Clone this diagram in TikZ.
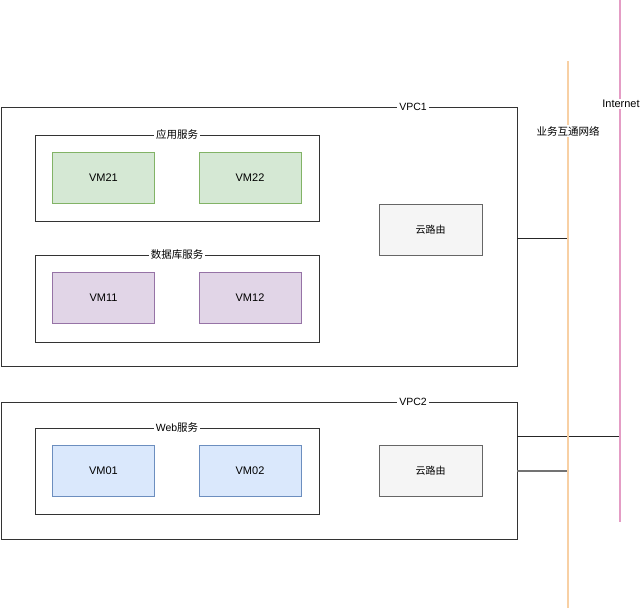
\documentclass[tikz,border=0pt]{standalone}
\usepackage{fontspec}
\setmainfont{Liberation Sans}
\newfontfamily\cjk{Noto Sans CJK SC}
\usetikzlibrary{positioning}

\definecolor{vmgreen}{HTML}{D5E8D4}
\definecolor{vmgreenline}{HTML}{82B366}
\definecolor{vmpurple}{HTML}{E1D5E7}
\definecolor{vmpurpleline}{HTML}{9673A6}
\definecolor{vmblue}{HTML}{DAE8FC}
\definecolor{vmblueline}{HTML}{6C8EBF}
\definecolor{rtgray}{HTML}{F5F5F5}
\definecolor{rtline}{HTML}{666666}
\definecolor{netorange}{HTML}{F8D0A4}
\definecolor{netpink}{HTML}{E49CC5}

\tikzset{
  vm/.style={rectangle, draw, minimum width=102pt, minimum height=51pt, font=\fontsize{11}{13}\selectfont},
  router/.style={rectangle, draw=rtline, fill=rtgray, minimum width=103pt, minimum height=51pt, font=\cjk\fontsize{10}{12}\selectfont},
  group/.style={rectangle, draw=black!80, line width=0.8pt},
  grouplabel/.style={fill=white, inner sep=2pt, font=\fontsize{10.5}{12}\selectfont},
}

\begin{document}
\begin{tikzpicture}[x=1pt, y=-1pt, node distance=146.5pt, on grid]
    \useasboundingbox (0,0) rectangle (640,611);
    % networks
    \coordinate (bt) at (568,61);
    \coordinate (bb) at (568,608);
    \coordinate (it) at (620,0);
    \coordinate (ib) at (620,522);

    % VPC1
    \node[group, minimum width=516pt, minimum height=259pt](vpc1) at (259,236.5){};
    \node[group, minimum width=284pt, minimum height=86pt](app) at (177,178){};
    \node[group, minimum width=284pt, minimum height=87pt](db) at (177,298.5){};
    \node[vm, fill=vmgreen, draw=vmgreenline](vm21) at (103.5,178){VM21};
    \node[vm, fill=vmgreen, draw=vmgreenline, right =of vm21](vm22){VM22};
    \node[vm, fill=vmpurple, draw=vmpurpleline](vm11) at (103.5,298){VM11};
    \node[vm, fill=vmpurple, draw=vmpurpleline, right =of vm11](vm12){VM12};
    \node[router](r1) at (430.5,229.5){云路由};
    \node[grouplabel] at (app.north){\cjk 应用服务};
    \node[grouplabel] at (db.north){\cjk 数据库服务};
    \node[grouplabel] at (vpc1.north -| 413,0){VPC1};

    % VPC2
    \node[group, minimum width=516pt, minimum height=137pt](vpc2) at (259,470.5){};
    \node[group, minimum width=284pt, minimum height=86pt](web) at (177,471){};
    \node[vm, fill=vmblue, draw=vmblueline](vm01) at (103.5,471){VM01};
    \node[vm, fill=vmblue, draw=vmblueline, right =of vm01](vm02){VM02};
    \node[router](r2) at (430.5,470.5){云路由};
    \node[grouplabel] at (web.north){Web{\cjk 服务}};
    \node[grouplabel] at (vpc2.north -| 413,0){VPC2};

    % links
    \coordinate (l1) at (vpc1.east |- 0,238);
    \coordinate (l2) at (vpc2.east |- 0,436);
    \coordinate (l3) at (vpc2.east |- 0,471);
    \draw[black!85, line width=0.8pt] (l1) -- (l1 -| bt);
    \draw[black!85, line width=0.8pt] (l2) -- (l2 -| it);
    \draw[black!55, line width=1.2pt] (l3) -- (l3 -| bt);
    \draw[netorange, line width=2.4pt] (bt) -- (bb);
    \draw[netpink, line width=2.4pt] (it) -- (ib);
    \node[fill=white, inner sep=1pt, font=\cjk\fontsize{10.5}{12}\selectfont] at (568,131){业务互通网络};
    \node[fill=white, inner sep=1pt, font=\fontsize{11}{12}\selectfont] at (621,104){Internet};
\end{tikzpicture}
\end{document}
